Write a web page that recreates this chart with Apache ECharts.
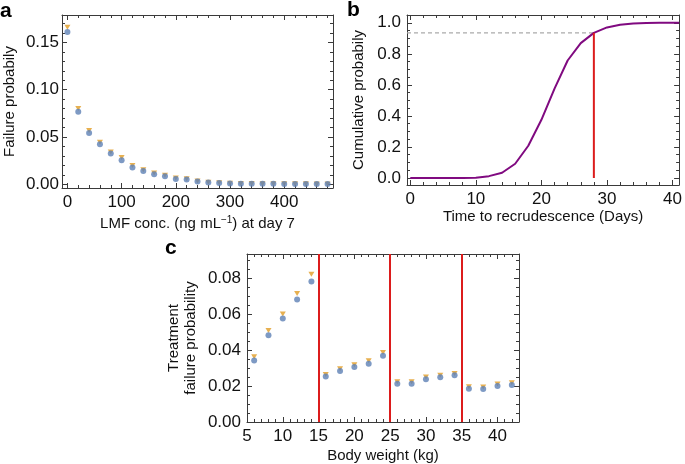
<!DOCTYPE html>
<html><head><meta charset="utf-8">
<script src="https://cdn.jsdelivr.net/npm/echarts@6/dist/echarts.min.js"></script>
<style>html,body{margin:0;padding:0;background:#fff}#c{width:685px;height:464px}</style>
</head><body><div id="c"></div>
<script>
// ---------- Panel a ----------
const concA = [0,20,40,60,80,100,120,140,160,180,200,220,240,260,280,300,320,340,360,380,400,420,440,460,480];
const failBlueA = [0.161,0.0766,0.0543,0.0424,0.0325,0.0254,0.0177,0.0141,0.0106,0.0085,0.0056,0.0049,0.0028,0.0018,0.0013,0.0008,0.0006,0.0005,0.0004,0.0004,0.0003,0.0003,0.0003,0.0002,0.0002];
const failOrangeA = [0.166,0.080,0.0568,0.0445,0.0342,0.0282,0.0198,0.0152,0.0118,0.0095,0.0066,0.0058,0.0034,0.0022,0.0016,0.0010,0.0008,0.0007,0.0006,0.0005,0.0005,0.0004,0.0004,0.0003,0.0003];
const ticksAx = [0,100,200,300,400];
const ticksAy = [0,0.05,0.10,0.15];
// ---------- Panel b ----------
const daysB = [0,2,4,6,8,10,12,14,16,18,20,22,24,26,28,30,32,34,36,38,40,41];
const cumProbB = [0,0,0,0,0,0.002,0.012,0.034,0.092,0.208,0.375,0.576,0.757,0.869,0.935,0.970,0.987,0.995,0.999,1.0,1.0,1.0];
const cutoffDayB = 28;
const cutoffProbB = 0.935;
const ticksBx = [0,10,20,30,40];
const ticksBy = [0,0.2,0.4,0.6,0.8,1.0];
// ---------- Panel c ----------
const weightC = [6,8,10,12,14,16,18,20,22,24,26,28,30,32,34,36,38,40,42];
const failBlueC = [0.0342,0.0482,0.0575,0.068,0.078,0.0253,0.0283,0.0305,0.0323,0.0368,0.0212,0.0212,0.0238,0.0248,0.0259,0.0185,0.0183,0.0200,0.0205];
const failOrangeC = [0.0362,0.0508,0.0600,0.0713,0.082,0.0264,0.0296,0.0318,0.0340,0.0386,0.0224,0.0224,0.0250,0.0259,0.0270,0.0196,0.0194,0.0211,0.0218];
const doseBandsC = [15,25,35];
const ticksCx = [5,10,15,20,25,30,35,40];
const ticksCy = [0,0.02,0.04,0.06,0.08];

const BLUE = '#5e81b5', ORANGE = '#e19c24', PURPLE = '#800a80', RED = '#dc1c1c';
const FRAME = '#3a3a3a';
const FONT = 'Liberation Sans';

function minorList(min, max, step) {
  const out = [];
  const start = Math.ceil(min / step - 1e-9) * step;
  for (let v = start; v <= max + 1e-9; v += step) out.push(+v.toFixed(6));
  return out;
}

const xAxes = [], yAxes = [];
function addAxes(gi, xr, yr, xMajor, yMajor, xMinorStep, yMinorStep, xFmt, yFmt, xName, yName, xGap, yGap, xLabMargin, yLabMargin) {
  const base = {gridIndex: gi, type: 'value', splitLine: {show: false}};
  const xb = xAxes.length;
  xAxes.push(Object.assign({}, base, {position: 'bottom', min: xr[0], max: xr[1],
    axisLine: {show: true, onZero: false, lineStyle: {color: FRAME, width: 1}},
    axisTick: {show: true, inside: true, length: 5, customValues: xMajor, lineStyle: {color: FRAME}},
    axisLabel: {show: true, customValues: xMajor, formatter: xFmt, color: '#111', fontSize: 17, fontFamily: FONT, margin: xLabMargin},
    name: xName, nameLocation: 'middle', nameGap: xGap,
    nameTextStyle: {color: '#111', fontSize: 15, fontFamily: FONT,
      rich: {sup: {fontSize: 10, verticalAlign: 'top', padding: [0,0,8,0], color: '#111', fontFamily: FONT}}}}));
  xAxes.push(Object.assign({}, base, {position: 'bottom', min: xr[0], max: xr[1],
    axisLine: {show: false, onZero: false}, axisLabel: {show: false},
    axisTick: {show: true, inside: true, length: 3, customValues: minorList(xr[0], xr[1], xMinorStep), lineStyle: {color: FRAME}}}));
  xAxes.push(Object.assign({}, base, {position: 'top', min: xr[0], max: xr[1],
    axisLine: {show: true, onZero: false, lineStyle: {color: FRAME, width: 1}}, axisLabel: {show: false},
    axisTick: {show: true, inside: true, length: 5, customValues: xMajor, lineStyle: {color: FRAME}}}));
  xAxes.push(Object.assign({}, base, {position: 'top', min: xr[0], max: xr[1],
    axisLine: {show: false, onZero: false}, axisLabel: {show: false},
    axisTick: {show: true, inside: true, length: 3, customValues: minorList(xr[0], xr[1], xMinorStep), lineStyle: {color: FRAME}}}));
  const yb = yAxes.length;
  yAxes.push(Object.assign({}, base, {position: 'left', min: yr[0], max: yr[1],
    axisLine: {show: true, onZero: false, lineStyle: {color: FRAME, width: 1}},
    axisTick: {show: true, inside: true, length: 5, customValues: yMajor, lineStyle: {color: FRAME}},
    axisLabel: {show: true, customValues: yMajor, formatter: yFmt, color: '#111', fontSize: 17, fontFamily: FONT, margin: yLabMargin},
    name: yName, nameLocation: 'middle', nameGap: yGap,
    nameTextStyle: {color: '#111', fontSize: 15, fontFamily: FONT, lineHeight: 17}}));
  yAxes.push(Object.assign({}, base, {position: 'left', min: yr[0], max: yr[1],
    axisLine: {show: false, onZero: false}, axisLabel: {show: false},
    axisTick: {show: true, inside: true, length: 3, customValues: minorList(yr[0], yr[1], yMinorStep), lineStyle: {color: FRAME}}}));
  yAxes.push(Object.assign({}, base, {position: 'right', min: yr[0], max: yr[1],
    axisLine: {show: true, onZero: false, lineStyle: {color: FRAME, width: 1}}, axisLabel: {show: false},
    axisTick: {show: true, inside: true, length: 5, customValues: yMajor, lineStyle: {color: FRAME}}}));
  yAxes.push(Object.assign({}, base, {position: 'right', min: yr[0], max: yr[1],
    axisLine: {show: false, onZero: false}, axisLabel: {show: false},
    axisTick: {show: true, inside: true, length: 3, customValues: minorList(yr[0], yr[1], yMinorStep), lineStyle: {color: FRAME}}}));
  return {x: xb, y: yb};
}

const XA = [-10, 490], YA = [-0.004, 0.179];
const XB = [-0.5, 41], YB = [-0.045, 1.05];
const XC = [5, 43], YC = [0, 0.0933];

const ia = addAxes(0, XA, YA, ticksAx, ticksAy, 20, 0.01, v => String(v), v => v.toFixed(2),
  'LMF conc. (ng mL{sup|\u22121}) at day 7', 'Failure probabily', 27, 44, 6, 3);
const ib = addAxes(1, XB, YB, ticksBx, ticksBy, 2, 0.05, v => String(v), v => v.toFixed(1),
  'Time to recrudescence (Days)', 'Cumulative probabily', 24, 40, 6, 6);
const ic = addAxes(2, XC, YC, ticksCx, ticksCy, 1, 0.005, v => String(v), v => v.toFixed(2),
  'Body weight (kg)', 'Treatment\nfailure probability', 26, 48, 6, 6);

const zip = (a, b) => a.map((v, i) => [v, b[i]]);

const option = {
  animation: false,
  backgroundColor: '#fff',
  grid: [
    {left: 62, top: 15, width: 271, height: 173},
    {left: 407, top: 15, width: 273, height: 170},
    {left: 247, top: 254, width: 272, height: 168}
  ],
  xAxis: xAxes,
  yAxis: yAxes,
  graphic: [
    {type: 'text', left: 0, top: 1, style: {text: 'a', font: 'bold 21px "Liberation Sans"', fill: '#000'}},
    {type: 'text', left: 347, top: 0, style: {text: 'b', font: 'bold 21px "Liberation Sans"', fill: '#000'}},
    {type: 'text', left: 165, top: 238, style: {text: 'c', font: 'bold 21px "Liberation Sans"', fill: '#000'}}
  ],
  series: [
    {type: 'scatter', xAxisIndex: ia.x, yAxisIndex: ia.y, data: zip(concA, failOrangeA),
      symbol: 'triangle', symbolRotate: 180, symbolSize: [6, 5], itemStyle: {color: ORANGE}},
    {type: 'scatter', xAxisIndex: ia.x, yAxisIndex: ia.y, data: zip(concA, failBlueA),
      symbol: 'circle', symbolSize: 6, itemStyle: {color: BLUE}},
    {type: 'line', xAxisIndex: ib.x, yAxisIndex: ib.y, data: [[XB[0], cutoffProbB], [cutoffDayB, cutoffProbB]],
      symbol: 'none', lineStyle: {color: '#aaaaaa', width: 1.2, type: [4, 3]}},
    {type: 'line', xAxisIndex: ib.x, yAxisIndex: ib.y, data: zip(daysB, cumProbB),
      symbol: 'none', lineStyle: {color: PURPLE, width: 2}},
    {type: 'line', xAxisIndex: ib.x, yAxisIndex: ib.y, data: [[cutoffDayB, 0], [cutoffDayB, cutoffProbB]],
      symbol: 'none', lineStyle: {color: RED, width: 2}},
    {type: 'scatter', xAxisIndex: ic.x, yAxisIndex: ic.y, data: zip(weightC, failOrangeC),
      symbol: 'triangle', symbolRotate: 180, symbolSize: [6, 5], itemStyle: {color: ORANGE},
      markLine: {silent: true, symbol: 'none', label: {show: false},
        lineStyle: {color: RED, width: 2, type: 'solid'},
        data: doseBandsC.map(v => ({xAxis: v}))}},
    {type: 'scatter', xAxisIndex: ic.x, yAxisIndex: ic.y, data: zip(weightC, failBlueC),
      symbol: 'circle', symbolSize: 6, itemStyle: {color: BLUE}}
  ]
};
const chart = echarts.init(document.getElementById('c'), null, {renderer: 'canvas'});
chart.setOption(option);
</script>
</body></html>
